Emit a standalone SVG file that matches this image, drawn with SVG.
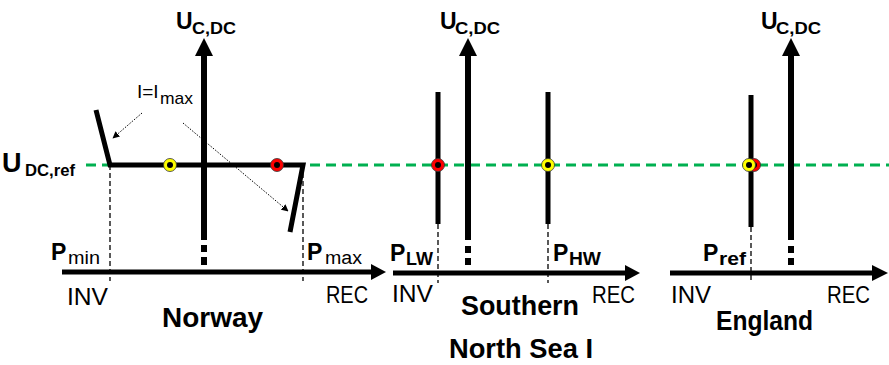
<svg xmlns="http://www.w3.org/2000/svg" width="889" height="365" viewBox="0 0 889 365">
<style>
.ax{stroke:#000;stroke-width:6;fill:none}
.hx{stroke:#000;stroke-width:5;fill:none}
.bar{stroke:#000;stroke-width:5;fill:none}
.thin{stroke:#000;stroke-width:1.3;stroke-dasharray:5 3;fill:none}
.ref{stroke:#00B050;stroke-width:3;stroke-dasharray:10 6;fill:none}
.dot{stroke:#000;stroke-width:1;stroke-dasharray:1.5 1.5;fill:none}
.t{font-family:"Liberation Sans",Arial,sans-serif;fill:#000}
.b{font-weight:bold}
.yel{fill:#FFFF00;stroke:#333;stroke-width:0.8}
.red{fill:#FF0000;stroke:#333;stroke-width:0.8}
.ctr{fill:#000}
</style>
<defs>
<marker id="ah" viewBox="0 0 10 10" refX="9" refY="5" markerWidth="7" markerHeight="7" orient="auto" markerUnits="userSpaceOnUse">
<path d="M0,0 L10,5 L0,10 z" fill="#000"/>
</marker>
</defs>
<rect width="889" height="365" fill="#fff"/>

<!-- reference voltage line -->
<line class="ref" x1="86" y1="165" x2="889" y2="165"/>

<g id="norway">
  <line class="thin" x1="110" y1="165" x2="110" y2="281"/>
  <line class="thin" x1="303" y1="165" x2="303" y2="281"/>
  <line class="ax" x1="204" y1="54" x2="204" y2="240"/>
  <polygon points="204,38 195,56 213,56" fill="#000"/>
  <rect x="201" y="245" width="6" height="7" fill="#000"/>
  <rect x="201" y="257" width="6" height="8" fill="#000"/>
  <line class="hx" x1="62" y1="272" x2="373" y2="272"/>
  <polygon points="386,272 371,264 371,280" fill="#000"/>
  <path d="M96,110 L110,165 L303,165 L290,232" stroke="#000" stroke-width="5" fill="none" stroke-linejoin="miter"/>
  <circle class="yel" cx="170" cy="165" r="6.5"/><circle class="ctr" cx="170" cy="165" r="3"/>
  <circle class="red" cx="277" cy="165" r="6.5"/><circle class="ctr" cx="277" cy="165" r="3"/>
  <text class="t b" x="176" y="29" font-size="23">U</text>
  <text class="t b" x="192" y="34" font-size="17" textLength="44" lengthAdjust="spacingAndGlyphs">C,DC</text>
  <text class="t b" x="2" y="172" font-size="27">U</text>
  <text class="t b" x="25" y="176" font-size="16" textLength="50" lengthAdjust="spacingAndGlyphs">DC,ref</text>
  <text class="t" x="137" y="98" font-size="19">I=I</text>
  <text class="t" x="160" y="104" font-size="17" textLength="33" lengthAdjust="spacingAndGlyphs">max</text>
  <text class="t b" x="51" y="260" font-size="23">P</text>
  <text class="t" x="68" y="264" font-size="18" textLength="32" lengthAdjust="spacingAndGlyphs">min</text>
  <text class="t b" x="307" y="260" font-size="23">P</text>
  <text class="t" x="325" y="264" font-size="18" textLength="37" lengthAdjust="spacingAndGlyphs">max</text>
  <text class="t" x="67" y="305" font-size="23" textLength="41" lengthAdjust="spacingAndGlyphs">INV</text>
  <text class="t" x="326" y="303" font-size="23" textLength="42" lengthAdjust="spacingAndGlyphs">REC</text>
  <text class="t b" x="162" y="327" font-size="27" textLength="101" lengthAdjust="spacingAndGlyphs">Norway</text>
</g>

<g id="southern-north-sea">
  <line class="thin" x1="438" y1="224" x2="438" y2="283"/>
  <line class="thin" x1="548" y1="224" x2="548" y2="283"/>
  <line class="bar" x1="438" y1="92" x2="438" y2="224"/>
  <line class="bar" x1="548" y1="92" x2="548" y2="224"/>
  <line class="ax" x1="468" y1="54" x2="468" y2="240"/>
  <polygon points="468,38 459,56 477,56" fill="#000"/>
  <rect x="465" y="246" width="6" height="7" fill="#000"/>
  <rect x="465" y="258" width="6" height="7" fill="#000"/>
  <line class="hx" x1="393" y1="273" x2="627" y2="273"/>
  <polygon points="640,273 625,265 625,281" fill="#000"/>
  <circle class="red" cx="438" cy="165" r="6.5"/><circle class="ctr" cx="438" cy="165" r="3"/>
  <circle class="yel" cx="548" cy="165" r="6.5"/><circle class="ctr" cx="548" cy="165" r="3"/>
  <text class="t b" x="440" y="29" font-size="23">U</text>
  <text class="t b" x="455" y="34" font-size="17" textLength="45" lengthAdjust="spacingAndGlyphs">C,DC</text>
  <text class="t b" x="390" y="261" font-size="23">P</text>
  <text class="t b" x="406" y="265" font-size="18" textLength="27" lengthAdjust="spacingAndGlyphs">LW</text>
  <text class="t b" x="553" y="261" font-size="23">P</text>
  <text class="t b" x="569" y="265" font-size="18" textLength="32" lengthAdjust="spacingAndGlyphs">HW</text>
  <text class="t" x="392" y="302" font-size="23" textLength="41" lengthAdjust="spacingAndGlyphs">INV</text>
  <text class="t" x="592" y="303" font-size="23" textLength="43" lengthAdjust="spacingAndGlyphs">REC</text>
  <text class="t b" x="461" y="315" font-size="27" textLength="118" lengthAdjust="spacingAndGlyphs">Southern</text>
  <text class="t b" x="449" y="358" font-size="27" textLength="144" lengthAdjust="spacingAndGlyphs">North Sea I</text>
</g>

<g id="england">
  <line class="thin" x1="751" y1="227" x2="751" y2="283"/>
  <line class="bar" x1="751" y1="95" x2="751" y2="227"/>
  <line class="ax" x1="791" y1="54" x2="791" y2="240"/>
  <polygon points="791,38 782,56 800,56" fill="#000"/>
  <rect x="788" y="246" width="6" height="7" fill="#000"/>
  <rect x="788" y="258" width="6" height="7" fill="#000"/>
  <line class="hx" x1="670" y1="273" x2="874" y2="273"/>
  <polygon points="888,273 872,265 872,281" fill="#000"/>
  <circle class="red" cx="754" cy="165" r="6.5"/><circle class="ctr" cx="754" cy="165" r="3"/>
  <circle class="yel" cx="749" cy="165" r="6.5"/><circle class="ctr" cx="749" cy="165" r="3"/>
  <text class="t b" x="761" y="29" font-size="23">U</text>
  <text class="t b" x="776" y="34" font-size="17" textLength="45" lengthAdjust="spacingAndGlyphs">C,DC</text>
  <text class="t b" x="703" y="261" font-size="23">P</text>
  <text class="t b" x="719" y="265" font-size="18" textLength="27" lengthAdjust="spacingAndGlyphs">ref</text>
  <text class="t" x="671" y="303" font-size="23" textLength="40" lengthAdjust="spacingAndGlyphs">INV</text>
  <text class="t" x="827" y="303" font-size="23" textLength="43" lengthAdjust="spacingAndGlyphs">REC</text>
  <text class="t b" x="716" y="330" font-size="27" textLength="97" lengthAdjust="spacingAndGlyphs">England</text>
</g>

<g id="connectors">
  <line class="dot" x1="142" y1="113" x2="113" y2="138" marker-end="url(#ah)"/>
  <line class="dot" x1="183" y1="123" x2="288" y2="211" marker-end="url(#ah)"/>
</g>
</svg>
